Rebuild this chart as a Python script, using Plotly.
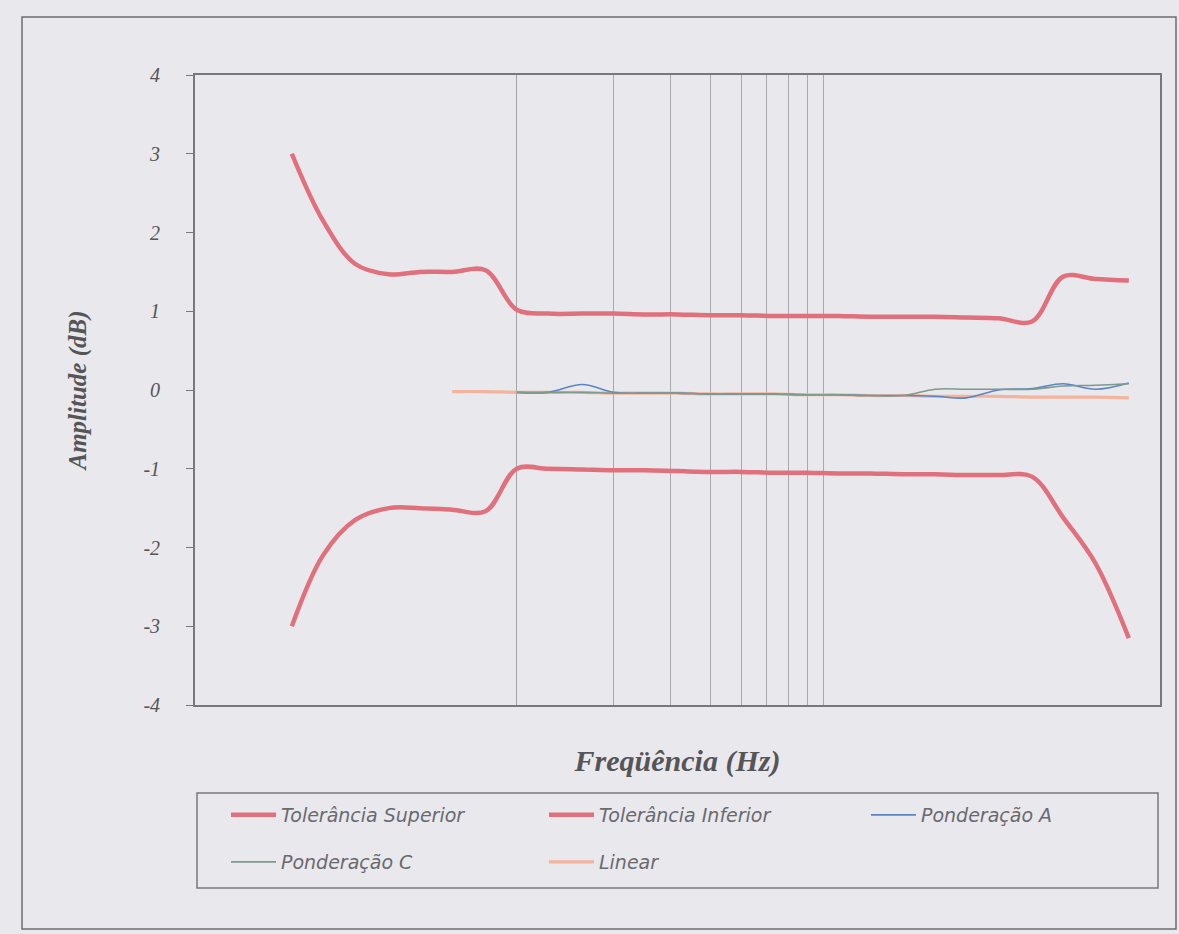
import plotly.graph_objects as go

# ---------------- data ----------------
freq_tol = [20, 25, 31.5, 40, 50, 63, 80, 100, 125, 160, 200, 250, 315, 400, 500,
            630, 800, 1000, 1250, 1600, 2000, 2500, 3150, 4000, 5000, 6300, 8000]
tol_superior = [3.0, 2.15, 1.6, 1.47, 1.5, 1.5, 1.52, 1.02, 0.97, 0.97, 0.97, 0.96, 0.96, 0.95, 0.95,
                0.94, 0.94, 0.94, 0.93, 0.93, 0.93, 0.92, 0.91, 0.87, 1.44, 1.41, 1.39]
tol_inferior = [-3.0, -2.1, -1.65, -1.5, -1.5, -1.52, -1.54, -1.0, -1.0, -1.01, -1.02, -1.02, -1.03, -1.04, -1.04,
                -1.05, -1.05, -1.06, -1.06, -1.07, -1.07, -1.08, -1.08, -1.1, -1.62, -2.2, -3.15]

freq_linear = [63, 80, 100, 125, 160, 200, 250, 315, 400, 500, 630, 800, 1000,
               1250, 1600, 2000, 2500, 3150, 4000, 5000, 6300, 8000]
linear = [-0.02, -0.02, -0.03, -0.03, -0.03, -0.04, -0.04, -0.04, -0.05, -0.05, -0.05, -0.06, -0.06,
          -0.07, -0.07, -0.08, -0.08, -0.08, -0.09, -0.09, -0.09, -0.10]

freq_weighted = [100, 125, 160, 200, 250, 315, 400, 500, 630, 800, 1000,
                 1250, 1600, 2000, 2500, 3150, 4000, 5000, 6300, 8000]
pond_c = [-0.03, -0.03, -0.03, -0.04, -0.04, -0.04, -0.05, -0.05, -0.05, -0.06, -0.06,
          -0.07, -0.07, 0.01, 0.01, 0.01, 0.01, 0.05, 0.06, 0.08]
pond_a = [-0.03, -0.03, 0.07, -0.03, -0.04, -0.04, -0.05, -0.05, -0.05, -0.06, -0.06,
          -0.07, -0.07, -0.08, -0.10, 0.0, 0.02, 0.08, 0.01, 0.09]

y_tick_vals = [-4, -3, -2, -1, 0, 1, 2, 3, 4]
y_tick_labels = ["-4", "-3", "-2", "-1", "0", "1", "2", "3", "4"]
grid_major = [100]
grid_minor = [200, 300, 400, 500, 600, 700, 800, 900]

# ---------------- styling ----------------
BG = "#e9e8ed"
TOL = "#e0707c"
LIN = "#f2b49c"
COLA = "#5a86c2"
COLC = "#7d9a8b"
AX = "#77777c"
TXT = "#555558"
SERIF = "Liberation Serif"

W, H = 1179, 934
L, R, T, B = 195, 1160, 75, 705

def px_x(p):
    return (p - L) / (R - L)

def px_y(p):
    return (B - p) / (B - T)

fig = go.Figure()

fig.add_trace(go.Scatter(x=freq_tol, y=tol_superior, name="Tolerância Superior", mode="lines",
                         line=dict(color=TOL, width=4.5, shape="spline"), legend="legend"))
fig.add_trace(go.Scatter(x=freq_tol, y=tol_inferior, name="Tolerância Inferior", mode="lines",
                         line=dict(color=TOL, width=4.5, shape="spline"), legend="legend2"))
fig.add_trace(go.Scatter(x=freq_linear, y=linear, name="Linear", mode="lines",
                         line=dict(color=LIN, width=3.2, shape="spline"), legend="legend5"))
fig.add_trace(go.Scatter(x=freq_weighted, y=pond_a, name="Ponderação A", mode="lines",
                         line=dict(color=COLA, width=1.6, shape="spline"), legend="legend3"))
fig.add_trace(go.Scatter(x=freq_weighted, y=pond_c, name="Ponderação C", mode="lines",
                         line=dict(color=COLC, width=1.6, shape="spline"), legend="legend4"))

legend_common = dict(orientation="h", xanchor="left", yanchor="middle",
                     bgcolor="rgba(0,0,0,0)", borderwidth=0, itemwidth=45,
                     font=dict(family="DejaVu Sans", size=19, color="#6a6a6e", style="italic"))

legend_pos = {
    "legend": (226, 815),
    "legend2": (544, 815),
    "legend3": (866, 815),
    "legend4": (226, 862),
    "legend5": (544, 862),
}

fig.update_layout(
    width=W, height=H,
    margin=dict(l=L, r=W - R, t=T, b=H - B),
    paper_bgcolor=BG, plot_bgcolor=BG,
    showlegend=True,
    **{k: dict(x=px_x(v[0]), y=px_y(v[1]), **legend_common) for k, v in legend_pos.items()},
    xaxis=dict(type="log", range=[1, 4], showticklabels=False, ticks="",
               tickmode="array", tickvals=grid_major,
               showgrid=True, gridcolor="#a2a2a8", gridwidth=1,
               minor=dict(tickmode="array", tickvals=grid_minor, showgrid=True,
                          gridcolor="#a8a8ae", gridwidth=1, ticks=""),
               showline=True, linecolor=AX, linewidth=1.5, mirror=True, zeroline=False,
               title=dict(text="Freqüência (Hz)", standoff=44,
                          font=dict(family=SERIF, size=30, color=TXT, style="italic", weight="bold"))),
    yaxis=dict(range=[-4, 4], tickmode="array", tickvals=y_tick_vals, ticktext=y_tick_labels,
               showgrid=False, zeroline=False,
               ticks="outside", ticklen=7, tickcolor=AX, tickwidth=1.2,
               ticklabelstandoff=22,
               tickfont=dict(family=SERIF, size=20, color=TXT, style="italic"),
               showline=True, linecolor=AX, linewidth=1.8, mirror=True,
               title=dict(text="Amplitude (dB)", standoff=50,
                          font=dict(family=SERIF, size=25, color=TXT, style="italic", weight="bold"))),
    shapes=[
        # legend box
        dict(type="rect", xref="paper", yref="paper",
             x0=px_x(197), x1=px_x(1158), y0=px_y(888), y1=px_y(793),
             line=dict(color=AX, width=1.5), fillcolor="rgba(0,0,0,0)", layer="below"),
        # outer chart-area border
        dict(type="rect", xref="paper", yref="paper",
             x0=px_x(22), x1=px_x(1176), y0=px_y(929), y1=px_y(17),
             line=dict(color="#6e6e72", width=1.5), fillcolor="rgba(0,0,0,0)", layer="below"),
    ],
)

fig.write_html("out.html", config={"displayModeBar": False},
               post_script="document.body.style.margin='0px';document.body.style.background='" + BG + "';")
